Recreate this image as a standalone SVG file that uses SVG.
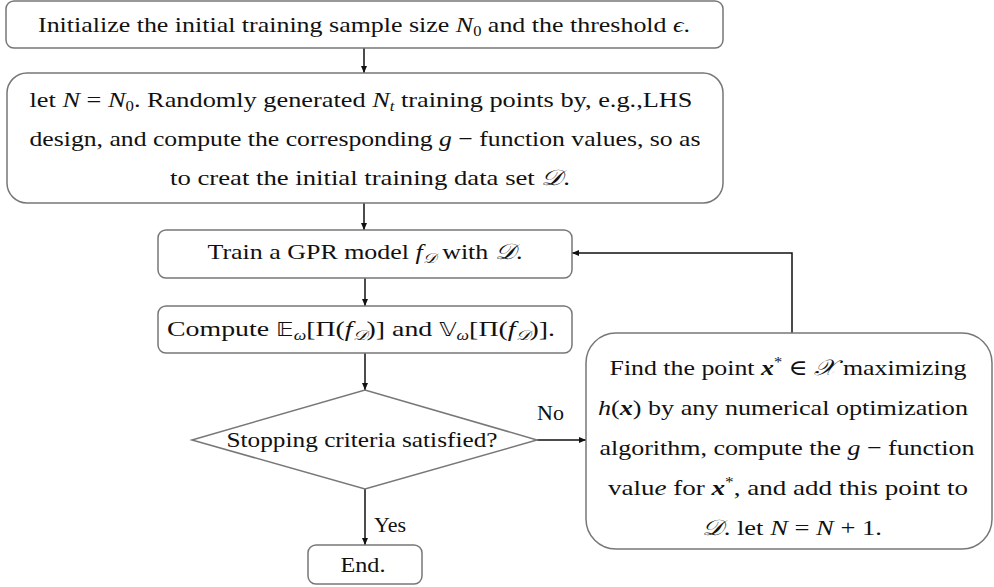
<svg xmlns="http://www.w3.org/2000/svg" width="994" height="587" viewBox="0 0 994 587">
<defs>
<marker id="ah" markerWidth="8" markerHeight="8" refX="7" refY="4" orient="auto" markerUnits="userSpaceOnUse">
<path d="M0,1 L7,4 L0,7 Z" fill="#111"/>
</marker>
<style>
.box{fill:#fff;stroke:#777;stroke-width:1.5}
.t{font-family:"Liberation Serif","DejaVu Serif",serif;font-size:22px;fill:#111;text-anchor:middle}
.l{font-family:"Liberation Serif","DejaVu Serif",serif;font-size:22px;fill:#111}
.i{font-style:italic}
.bi{font-style:italic;font-weight:bold}
.s{font-size:14px}
.m{font-family:"DejaVu Sans",sans-serif;font-size:19px}
.c{stroke:#111;stroke-width:1.5;fill:none}
</style>
</defs>
<rect width="994" height="587" fill="#fff"/>
<g id="connectors">
<line class="c" x1="364" y1="48" x2="364" y2="73" marker-end="url(#ah)"/>
<line class="c" x1="364" y1="203" x2="364" y2="230" marker-end="url(#ah)"/>
<line class="c" x1="365" y1="278" x2="365" y2="306" marker-end="url(#ah)"/>
<line class="c" x1="365" y1="353" x2="365" y2="390" marker-end="url(#ah)"/>
<line class="c" x1="537" y1="440" x2="586" y2="440" marker-end="url(#ah)"/>
<line class="c" x1="365" y1="489" x2="365" y2="545" marker-end="url(#ah)"/>
<path class="c" d="M792,333 V253 H572" marker-end="url(#ah)"/>
<text class="l" x="537" y="420">No</text>
<text class="l" x="374" y="532">Yes</text>
</g>
<g id="init">
<rect class="box" x="6" y="1" width="717" height="47" rx="8"/>
<text class="t" x="364" y="32" textLength="652" lengthAdjust="spacingAndGlyphs">Initialize the initial training sample size <tspan class="i">N</tspan><tspan class="s" dy="4">0</tspan><tspan dy="-4"> and the threshold </tspan><tspan class="i">ϵ</tspan>.</text>
</g>
<g id="generate">
<rect class="box" x="7" y="73" width="716" height="130" rx="20"/>
<text class="t" x="361" y="107" textLength="663" lengthAdjust="spacingAndGlyphs">let <tspan class="i">N</tspan> = <tspan class="i">N</tspan><tspan class="s" dy="4">0</tspan><tspan dy="-4">. Randomly generated </tspan><tspan class="i">N</tspan><tspan class="s i" dy="4">t</tspan><tspan dy="-4"> training points by, e.g.,LHS</tspan></text>
<text class="t" x="365" y="146" textLength="671" lengthAdjust="spacingAndGlyphs">design, and compute the corresponding <tspan class="i">g</tspan> − function values, so as</text>
<text class="t" x="370" y="185" textLength="400" lengthAdjust="spacingAndGlyphs">to creat the initial training data set  <tspan class="i">𝒟</tspan>.</text>
</g>
<g id="train">
<rect class="box" x="158" y="230" width="414" height="48" rx="8"/>
<text class="t" x="365" y="259" textLength="315" lengthAdjust="spacingAndGlyphs">Train a GPR model <tspan class="i">f</tspan><tspan class="s i" dy="4">𝒟</tspan><tspan dy="-4"> with </tspan><tspan class="i">𝒟</tspan>.</text>
</g>
<g id="compute">
<rect class="box" x="158" y="306" width="414" height="47" rx="8"/>
<text class="t" x="361" y="336" textLength="388" lengthAdjust="spacingAndGlyphs">Compute <tspan class="m">𝔼</tspan><tspan class="s i" dy="4">ω</tspan><tspan dy="-4">[Π(</tspan><tspan class="i">f</tspan><tspan class="s i" dy="4">𝒟</tspan><tspan dy="-4">)] and </tspan><tspan class="m">𝕍</tspan><tspan class="s i" dy="4">ω</tspan><tspan dy="-4">[Π(</tspan><tspan class="i">f</tspan><tspan class="s i" dy="4">𝒟</tspan><tspan dy="-4">)].</tspan></text>
</g>
<g id="decision">
<polygon class="box" points="192,440 365,390 537,440 365,489"/>
<text class="t" x="362" y="447" textLength="271" lengthAdjust="spacingAndGlyphs">Stopping criteria satisfied?</text>
</g>
<g id="end">
<rect class="box" x="308" y="545" width="114" height="39" rx="8"/>
<text class="t" x="363" y="572" textLength="45" lengthAdjust="spacingAndGlyphs">End.</text>
</g>
<g id="update">
<rect class="box" x="586" y="333" width="406" height="216" rx="30"/>
<text class="t" x="788" y="375" textLength="357" lengthAdjust="spacingAndGlyphs">Find the point <tspan class="bi">x</tspan><tspan class="s" dy="-8">*</tspan><tspan dy="8"> ∈ </tspan><tspan class="i">𝒳</tspan><tspan>  maximizing</tspan></text>
<text class="t" x="783" y="415" textLength="370" lengthAdjust="spacingAndGlyphs"><tspan class="i">h</tspan>(<tspan class="bi">x</tspan>) by any numerical optimization</text>
<text class="t" x="787" y="455" textLength="375" lengthAdjust="spacingAndGlyphs">algorithm, compute the <tspan class="i">g</tspan> − function</text>
<text class="t" x="788" y="495" textLength="360" lengthAdjust="spacingAndGlyphs">valu<tspan class="i">e</tspan> for <tspan class="bi">x</tspan><tspan class="s" dy="-8">*</tspan><tspan dy="8">, and add this point to</tspan></text>
<text class="t" x="792" y="535" textLength="180" lengthAdjust="spacingAndGlyphs"><tspan class="i">𝒟</tspan>. let <tspan class="i">N</tspan> = <tspan class="i">N</tspan> + 1.</text>
</g>
</svg>
